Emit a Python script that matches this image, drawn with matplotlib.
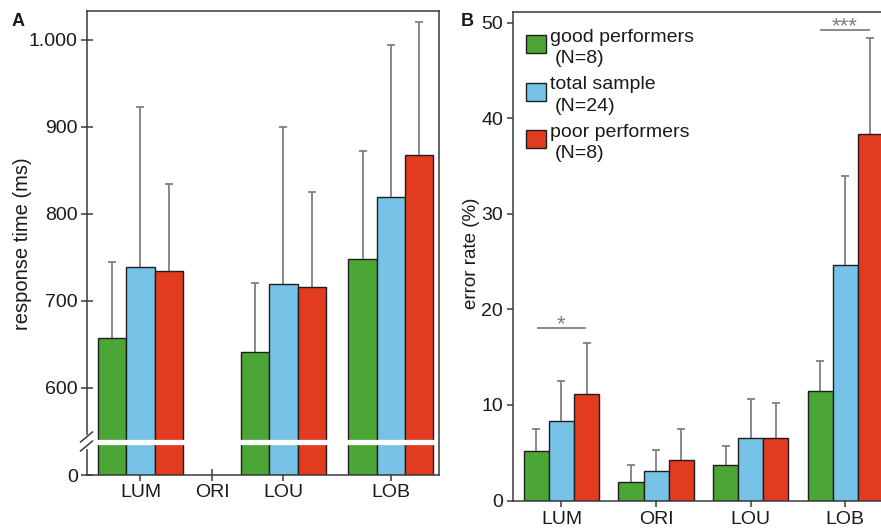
import numpy as np
import matplotlib
matplotlib.use("Agg")
import matplotlib.pyplot as plt
from matplotlib.patches import Rectangle
from matplotlib.lines import Line2D

plt.rcParams['font.family'] = ['Liberation Sans', 'DejaVu Sans']

# ---------------- data ----------------
categories = ['LUM', 'ORI', 'LOU', 'LOB']
group_names = ['good performers', 'total sample', 'poor performers']
group_ns = ['(N=8)', '(N=24)', '(N=8)']

# Panel A: response time (ms); no response-time bars for ORI
rt_good = [658, np.nan, 641, 748]
rt_good_sd = [87, np.nan, 80, 124]
rt_total = [739, np.nan, 720, 820]
rt_total_sd = [184, np.nan, 180, 174]
rt_poor = [735, np.nan, 716, 868]
rt_poor_sd = [100, np.nan, 109, 153]
rt_ticks = [0, 600, 700, 800, 900, 1000]
rt_ticklabels = ['0', '600', '700', '800', '900', '1.000']

# Panel B: error rate (%)
er_good = [5.17, 1.91, 3.69, 11.48]
er_good_sd = [2.27, 1.84, 2.05, 3.11]
er_total = [8.29, 3.12, 6.52, 24.62]
er_total_sd = [4.25, 2.12, 4.14, 9.35]
er_poor = [11.16, 4.28, 6.59, 38.4]
er_poor_sd = [5.28, 3.23, 3.61, 10.0]
er_ticks = [0, 10, 20, 30, 40, 50]

sig_labels = ['*', '***']
sig_categories = ['LUM', 'LOB']
sig_levels = [18.1, 49.3]

# ---------------- layout / style ----------------
W, H = 881, 530
fig = plt.figure(figsize=(W / 100, H / 100), dpi=100)


def fx(px):
    return px / W


def fy(py):
    return 1 - py / H


colors = ['#4ba636', '#77c3e8', '#e23b1f']
edge = '#1e1e1e'
ecol = '#808080'
txt = '#1a1a1a'
spc = '#3a3a3a'

# broken y scale for panel A (0..BRK compressed)
BRK, Y0 = 538.0, 500.0


def fwd(y):
    y = np.asarray(y, dtype=float)
    return np.where(y >= BRK, y, Y0 + y * (BRK - Y0) / BRK)


def inv(v):
    v = np.asarray(v, dtype=float)
    return np.where(v >= BRK, v, (v - Y0) * BRK / (BRK - Y0))


def style_axes(ax):
    for s in ax.spines.values():
        s.set_color(spc)
        s.set_linewidth(1.1)
    ax.set_axisbelow(True)


def upper_errorbar(ax, x, m, sd):
    cont = ax.errorbar(x, m, yerr=[np.zeros(len(m)), sd], fmt='none',
                       ecolor=ecol, elinewidth=1.3, capsize=2.6, capthick=1.3, zorder=1.5)
    for cap in cont[1]:
        if np.allclose(np.asarray(cap.get_ydata(), float), np.asarray(m, float)):
            cap.set_visible(False)


# ---------------- Panel A ----------------
axA = fig.add_axes([fx(86.7), fy(475), (439.3 - 86.7) / W, (475 - 11) / H])
axA.set_yscale('function', functions=(fwd, inv))
posA = np.array([0, 1, 2, 3.5])
wA = 0.394
seriesA = [(rt_good, rt_good_sd), (rt_total, rt_total_sd), (rt_poor, rt_poor_sd)]
validA = None
for k, (m, sd) in enumerate(seriesA):
    m = np.asarray(m, float)
    sd = np.asarray(sd, float)
    ok = ~np.isnan(m)
    validA = ok
    x = posA[ok] + (k - 1) * wA
    axA.bar(x, m[ok], wA, color=colors[k], edgecolor=edge, linewidth=1.0, zorder=2)
    upper_errorbar(axA, x, m[ok], sd[ok])

for p, ok in zip(posA, validA):
    if ok:
        axA.plot([p - 1.5 * wA - 0.03, p + 1.5 * wA + 0.03], [BRK, BRK], color='white',
                 lw=3.8, solid_capstyle='butt', zorder=3)

axA.set_ylim(0, 1033.3)
axA.set_xlim(-0.752, 4.179)
axA.set_yticks(rt_ticks, rt_ticklabels)
axA.set_xticks(posA, categories)
axA.tick_params(direction='inout', length=9, width=1.1, color=spc, labelsize=14,
                labelcolor=txt, pad=2)
axA.minorticks_off()
style_axes(axA)

# axis-break marks on the left spine
fig.add_artist(Line2D([fx(86.7)] * 2, [fy(436.5), fy(446.5)], color='white', lw=3, zorder=5))
for cy in (437.0, 446.0):
    fig.add_artist(Line2D([fx(80.5), fx(92.5)], [fy(cy + 5), fy(cy - 5)], color=spc, lw=1.1, zorder=6))

fig.text(fx(22.8), fy(244), 'response time (ms)', rotation=90, ha='center', va='center',
         fontsize=14.5, color=txt)
fig.text(fx(11.5), fy(25.5), 'A', fontsize=13, fontweight='bold', color=txt)

# ---------------- Panel B ----------------
axB = fig.add_axes([fx(513.3), fy(500.5), (890 - 513.3) / W, (500.5 - 11.7) / H])
posB = np.arange(len(categories))
wB = 0.2646
seriesB = [(er_good, er_good_sd), (er_total, er_total_sd), (er_poor, er_poor_sd)]
for k, (m, sd) in enumerate(seriesB):
    m = np.asarray(m, float)
    sd = np.asarray(sd, float)
    x = posB + (k - 1) * wB
    axB.bar(x, m, wB, color=colors[k], edgecolor=edge, linewidth=1.0, zorder=2)
    upper_errorbar(axB, x, m, sd)

for lab, cat, lev in zip(sig_labels, sig_categories, sig_levels):
    i = categories.index(cat)
    axB.plot([posB[i] - 0.25, posB[i] + 0.25], [lev, lev], color=ecol, lw=1.3, zorder=3)
    axB.annotate(lab, xy=(posB[i], lev), xytext=(0, -2), textcoords='offset points',
                 ha='center', va='baseline', fontsize=16, color=ecol)

axB.set_xlim(-0.510, 3.476)
axB.set_ylim(0, 51.18)
axB.set_yticks(er_ticks)
axB.set_xticks(posB, categories)
axB.tick_params(direction='out', length=4.5, width=1.1, color=spc, labelsize=14,
                labelcolor=txt, pad=3)
style_axes(axB)

fig.text(fx(471.5), fy(253.6), 'error rate (%)', rotation=90, ha='center', va='center',
         fontsize=13.5, color=txt)
fig.text(fx(460.5), fy(26), 'B', fontsize=13, fontweight='bold', color=txt)

# legend (manual, upper left of panel B)
for k in range(3):
    top = 35 + 47.5 * k
    fig.add_artist(Rectangle((fx(526), fy(top + 18)), 20 / W, 18 / H, facecolor=colors[k],
                             edgecolor=edge, linewidth=1.0, transform=fig.transFigure, zorder=5))
    fig.text(fx(549.5), fy(41.7 + 47.5 * k), group_names[k], fontsize=14, color=txt,
             va='baseline', ha='left')
    fig.text(fx(555), fy(63.3 + 47.5 * k), group_ns[k], fontsize=14, color=txt,
             va='baseline', ha='left')

fig.savefig('out.png', dpi=100)
